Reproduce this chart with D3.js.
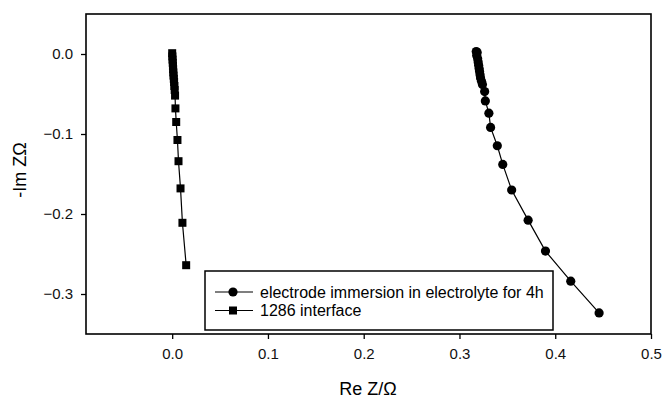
<!DOCTYPE html>
<html>
<head>
<meta charset="utf-8">
<script src="https://cdn.jsdelivr.net/npm/d3@7"></script>
<style>
  body { margin: 0; background: #fff; }
  .axis text { font: 15px Arial, 'Liberation Sans', sans-serif; fill: #111; }
  .axis line { stroke: #000; stroke-width: 1.3; }
</style>
</head>
<body>
<div id="chart"></div>
<script>
// square series: 1286 interface
var ifaceRe = [0.0000, 0.0002, 0.0004, 0.0006, 0.0008, 0.0010, 0.0012, 0.0014, 0.0017, 0.0020, 0.0023, 0.0026, 0.0030, 0.0034, 0.0042, 0.0055, 0.0066, 0.0087, 0.0107, 0.0146]
var ifaceIm = [0.001, -0.003, -0.007, -0.011, -0.015, -0.019, -0.023, -0.027, -0.031, -0.035, -0.040, -0.045, -0.052, -0.068, -0.085, -0.1075, -0.134, -0.168, -0.211, -0.264]

// circle series: electrode immersion 4h
var immRe = [0.3175, 0.3185, 0.3180, 0.3190, 0.3195, 0.3200, 0.3205, 0.3210, 0.3215, 0.3220, 0.3230, 0.3240, 0.3263, 0.3270, 0.3307, 0.3325, 0.3395, 0.3452, 0.3545, 0.3717, 0.3898, 0.4162, 0.4458]
var immIm = [0.003, 0.002, -0.002, -0.006, -0.010, -0.014, -0.018, -0.022, -0.026, -0.030, -0.034, -0.038, -0.047, -0.0586, -0.074, -0.0918, -0.1147, -0.138, -0.170, -0.2077, -0.2464, -0.284, -0.3236]

var xTicks = [0.0, 0.1, 0.2, 0.3, 0.4, 0.5]
var yTicks = [0.0, -0.1, -0.2, -0.3]
var legendLabels = ['electrode immersion in electrolyte for 4h', '1286 interface']

var width = 663, height = 401
var frame = {left: 86, top: 14, right: 651, bottom: 334}

var svg = d3.select('#chart').append('svg')
    .attr('width', width)
    .attr('height', height)

var x = d3.scaleLinear().domain([-0.09, 0.5]).range([frame.left, frame.right])
var y = d3.scaleLinear().domain([-0.35, 0.05]).range([frame.bottom, frame.top])

function pts(xs, ys) {
  return xs.map(function(v, i) { return {re: v, im: ys[i]} })
}
var iface = pts(ifaceRe, ifaceIm)
var imm = pts(immRe, immIm)

var line = d3.line()
    .x(function(d) { return x(d.re) })
    .y(function(d) { return y(d.im) })

// axes
var gx = svg.append('g')
    .attr('class', 'axis')
    .attr('transform', 'translate(0,' + frame.bottom + ')')
    .call(d3.axisBottom(x).tickValues(xTicks).tickFormat(d3.format('.1f')).tickSize(5).tickPadding(9))
gx.select('.domain').remove()

var gy = svg.append('g')
    .attr('class', 'axis')
    .attr('transform', 'translate(' + frame.left + ',0)')
    .call(d3.axisLeft(y).tickValues(yTicks).tickFormat(d3.format('.1f')).tickSize(5).tickPadding(8))
gy.select('.domain').remove()

// frame
svg.append('rect')
    .attr('x', frame.left)
    .attr('y', frame.top)
    .attr('width', frame.right - frame.left)
    .attr('height', frame.bottom - frame.top)
    .attr('fill', 'none')
    .attr('stroke', '#000')
    .attr('stroke-width', 1.6)

// series lines
svg.append('path')
    .datum(iface)
    .attr('d', line)
    .attr('fill', 'none')
    .attr('stroke', '#000')
    .attr('stroke-width', 1.2)

svg.append('path')
    .datum(imm)
    .attr('d', line)
    .attr('fill', 'none')
    .attr('stroke', '#000')
    .attr('stroke-width', 1.2)

svg.selectAll('.sq')
  .data(iface)
  .enter().append('rect')
    .attr('class', 'sq')
    .attr('x', function(d) { return x(d.re) - 4 })
    .attr('y', function(d) { return y(d.im) - 4 })
    .attr('width', 8)
    .attr('height', 8)
    .attr('fill', '#000')

svg.selectAll('.dot')
  .data(imm)
  .enter().append('circle')
    .attr('class', 'dot')
    .attr('cx', function(d) { return x(d.re) })
    .attr('cy', function(d) { return y(d.im) })
    .attr('r', 4.6)
    .attr('fill', '#000')

// legend
var lg = svg.append('g').attr('transform', 'translate(205,271)')
lg.append('rect')
    .attr('width', 348)
    .attr('height', 59)
    .attr('fill', '#fff')
    .attr('stroke', '#000')
    .attr('stroke-width', 1.5)

legendLabels.forEach(function(label, i) {
  var ly = 21 + i * 18.5
  lg.append('line')
      .attr('x1', 10).attr('x2', 48)
      .attr('y1', ly).attr('y2', ly)
      .attr('stroke', '#000')
      .attr('stroke-width', 1.2)
  if (i == 0) {
    lg.append('circle').attr('cx', 28).attr('cy', ly).attr('r', 4.6).attr('fill', '#000')
  } else {
    lg.append('rect').attr('x', 24).attr('y', ly - 4).attr('width', 8).attr('height', 8).attr('fill', '#000')
  }
  lg.append('text')
      .attr('x', 55)
      .attr('y', ly)
      .attr('dy', '0.35em')
      .style('font', '16px Arial, sans-serif')
      .text(label)
})

// axis titles
svg.append('text')
    .attr('x', 368)
    .attr('y', 395)
    .attr('text-anchor', 'middle')
    .style('font', '18px Arial, sans-serif')
    .text('Re Z/\u03A9')

svg.append('text')
    .attr('transform', 'translate(26,170) rotate(-90)')
    .attr('text-anchor', 'middle')
    .style('font', '18px Arial, sans-serif')
    .text('-Im Z\u03A9')
</script>
</body>
</html>
